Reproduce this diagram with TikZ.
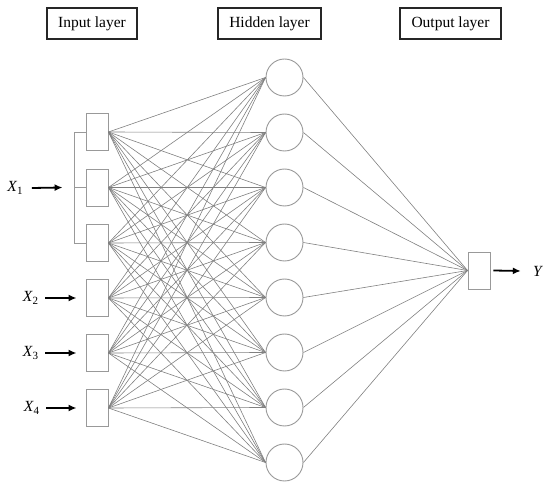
\documentclass[tikz,border=0pt]{standalone}
\usepackage{fontspec}
\setmainfont{Liberation Serif}
\usetikzlibrary{arrows.meta}

\tikzset{
  layerbox/.style={draw=black!85, line width=1.2pt, minimum height=31pt, inner sep=0pt,
    font=\fontsize{15.5}{18}\selectfont},
  unitbox/.style={draw=black!40, line width=0.9pt, minimum width=22pt, minimum height=37pt, inner sep=0pt},
  neuron/.style={draw=black!40, line width=0.9pt, circle, minimum size=37pt, inner sep=0pt},
  link/.style={draw=black!50, line width=0.6pt},
  inarrow/.style={black, line width=1.8pt, -{Latex[length=8pt,width=7pt]}},
  varlabel/.style={inner sep=0pt, font=\fontsize{15.5}{18}\selectfont}
}
\newcommand{\varsub}[2]{\textit{#1}\raisebox{-2.5pt}{\fontsize{11}{12}\selectfont #2}}

\begin{document}
\begin{tikzpicture}[x=1pt, y=-1pt]
  \useasboundingbox (0,0) rectangle (550,489);

  % titoli dei livelli
  \node[layerbox, minimum width=90pt] (tin) at (92,23.5) {Input layer};
  \node[layerbox, minimum width=103pt] (thid) at (269.5,23.5) {Hidden layer};
  \node[layerbox, minimum width=101pt] (tout) at (450.5,23.5) {Output layer};

  % livello di ingresso
  \foreach \i/\y in {1/132,2/187.5,3/243,4/298,5/353,6/408}{
    \node[unitbox] (in\i) at (97,\y) {};
  }

  % livello nascosto
  \foreach \j in {1,...,8}{
    \node[neuron] (h\j) at (284.5,{22.5+55*\j}) {};
  }

  % uscita
  \node[unitbox] (out) at (479,270.5) {};

  % collegamenti
  \foreach \i in {1,...,6}{
    \foreach \j in {1,...,8}{
      \draw[link] (in\i.east) -- (h\j.west);
    }
  }
  \foreach \j in {1,...,8}{
    \draw[link] (h\j.east) -- (out.west);
  }

  % parentesi per X1
  \draw[black!40, line width=0.9pt] (in1.west) -- ++(-11,0) |- (in3.west);
  \draw[black!40, line width=0.9pt] (in2.west) -- ++(-11,0);

  % variabili di ingresso
  \node[varlabel] (x1) at (15,188) {\varsub{X}{1}};
  \node[varlabel] (x2) at (30.5,298) {\varsub{X}{2}};
  \node[varlabel] (x3) at (30.5,353) {\varsub{X}{3}};
  \node[varlabel] (x4) at (31.5,408) {\varsub{X}{4}};
  \draw[inarrow] ([xshift=9pt]x1.east) -- ([xshift=-23pt]in2.west);
  \draw[inarrow] ([xshift=7pt]x2.east) -- ([xshift=-9pt]in4.west);
  \draw[inarrow] ([xshift=7pt]x3.east) -- ([xshift=-9pt]in5.west);
  \draw[inarrow] ([xshift=7pt]x4.east) -- ([xshift=-9pt]in6.west);

  % variabile di uscita
  \node[varlabel] (y) at (538,271) {\textit{Y}};
  \draw[inarrow] ([xshift=3pt]out.east) -- ([xshift=-12pt]y.west);
\end{tikzpicture}
\end{document}
